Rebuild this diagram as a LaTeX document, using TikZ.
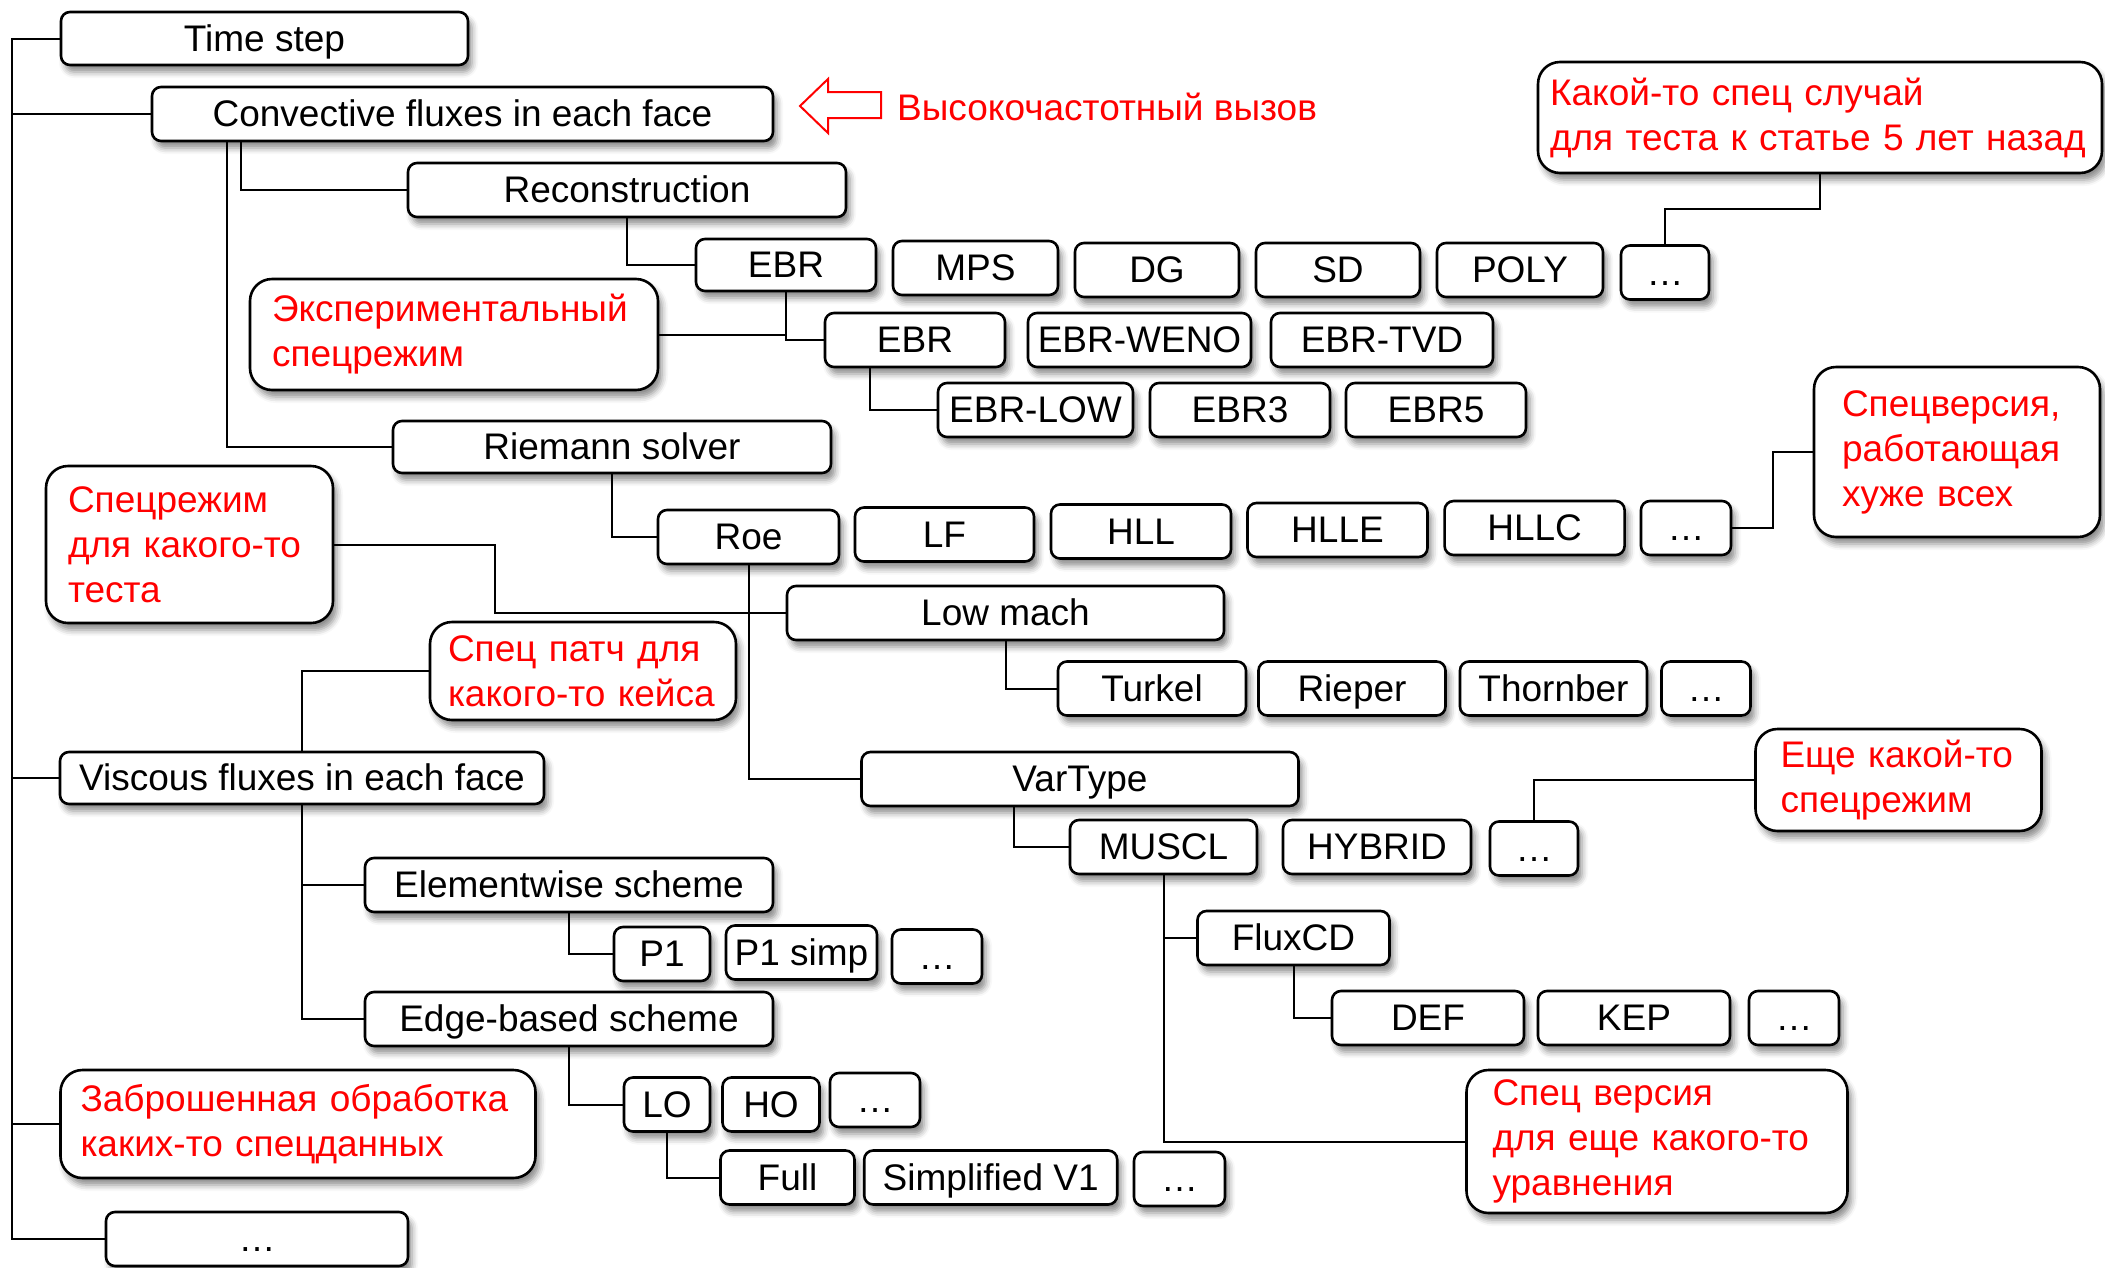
\documentclass[tikz,border=0pt]{standalone}
\usepackage{fontspec}
\setmainfont{Liberation Sans}
\usetikzlibrary{shadows.blur}
\tikzset{
  tbox/.style={draw, line width=2.6pt, rounded corners=9pt, fill=white,
    minimum height=54pt, inner xsep=3pt, inner ysep=0pt,
    text height=25pt, text depth=0pt, font=\fontsize{37}{45}\selectfont,
    blur shadow={shadow xshift=4pt, shadow yshift=-7pt, shadow blur radius=6pt, shadow opacity=45}},
  rbox/.style={tbox, rounded corners=22pt, text=red, align=left, text height=, text depth=},
  link/.style={line width=2pt}
}
\begin{document}
\begin{tikzpicture}[x=1pt, y=-1pt]
        \useasboundingbox (0,0) rectangle (2105,1267);

        \node[tbox, minimum width=407pt, minimum height=53pt] (1) at (264.5,38.5) {Time step};
        \node[tbox, minimum width=621pt] (2) at (462.5,114) {Convective fluxes in each face};
        \node[tbox, minimum width=438pt] (3) at (627,190) {Reconstruction};
        \node[tbox, minimum width=180pt, minimum height=52pt] (4) at (786,265) {EBR};
        \node[tbox, minimum width=165pt] (5) at (975.5,268) {MPS};
        \node[tbox, minimum width=164pt] (6) at (1157,270) {DG};
        \node[tbox, minimum width=164pt] (7) at (1338,270) {SD};
        \node[tbox, minimum width=166pt] (8) at (1520,270) {POLY};
        \node[tbox, minimum width=88pt] (9) at (1665,272.5) {…};
        \node[rbox, text width=364pt, inner xsep=22pt, minimum height=111pt] (10) at (454,334.5) {Экспериментальный\\спецрежим};
        \node[tbox, minimum width=180pt] (11) at (915,340) {EBR};
        \node[tbox, minimum width=223pt] (12) at (1139.5,340) {EBR-WENO};
        \node[tbox, minimum width=222pt] (13) at (1382,340) {EBR-TVD};
        \node[tbox, minimum width=195pt] (14) at (1035.5,410) {EBR-LOW};
        \node[tbox, minimum width=180pt] (15) at (1240,410) {EBR3};
        \node[tbox, minimum width=180pt] (16) at (1436,410) {EBR5};
        \node[tbox, minimum width=438pt, minimum height=52pt] (17) at (612,447) {Riemann solver};
        \node[rbox, text width=243pt, inner xsep=22pt, minimum height=157pt] (18) at (189.5,544.5) {Спецрежим\\для какого-то\\теста};
        \node[tbox, minimum width=181pt] (19) at (748.5,537) {Roe};
        \node[tbox, minimum width=179pt] (20) at (944.5,534.5) {LF};
        \node[tbox, minimum width=180pt] (21) at (1141,531.5) {HLL};
        \node[tbox, minimum width=180pt] (22) at (1337.5,530) {HLLE};
        \node[tbox, minimum width=180pt] (23) at (1534.6,528) {HLLC};
        \node[tbox, minimum width=90pt] (24) at (1686,528) {…};
        \node[rbox, text width=230pt, inner xsep=28pt, minimum height=170pt] (25) at (1957,452) {Спецверсия,\\работающая\\хуже всех};
        \node[tbox, minimum width=437pt] (26) at (1005.5,613) {Low mach};
        \node[tbox, minimum width=188pt] (27) at (1152,688.5) {Turkel};
        \node[tbox, minimum width=187pt] (28) at (1352,688.5) {Rieper};
        \node[tbox, minimum width=187pt] (29) at (1553.5,688.5) {Thornber};
        \node[tbox, minimum width=89pt] (30) at (1706,688.5) {…};
        \node[rbox, text width=270pt, inner xsep=18pt, minimum height=98pt] (31) at (583,671) {Спец патч для\\какого-то кейса};
        \node[tbox, minimum width=484pt, minimum height=52pt] (32) at (302,778) {Viscous fluxes in each face};
        \node[tbox, minimum width=437pt] (33) at (1080,779) {VarType};
        \node[rbox, text width=236pt, inner xsep=25pt, minimum height=102pt] (34) at (1898.5,780) {Еще какой-то\\спецрежим};
        \node[tbox, minimum width=187pt] (35) at (1163.5,847) {MUSCL};
        \node[tbox, minimum width=188pt] (36) at (1377,847) {HYBRID};
        \node[tbox, minimum width=88pt] (37) at (1534,848.5) {…};
        \node[tbox, minimum width=408pt] (38) at (569,885) {Elementwise scheme};
        \node[tbox, minimum width=192pt] (39) at (1293.5,938) {FluxCD};
        \node[tbox, minimum width=96pt] (40) at (662,954) {P1};
        \node[tbox, minimum width=151pt] (41) at (801.5,952.5) {P1 simp};
        \node[tbox, minimum width=90pt] (42) at (937,956.5) {…};
        \node[tbox, minimum width=408pt] (43) at (569,1019) {Edge-based scheme};
        \node[tbox, minimum width=192pt] (44) at (1428,1018) {DEF};
        \node[tbox, minimum width=192pt] (45) at (1634,1018) {KEP};
        \node[tbox, minimum width=90pt] (46) at (1794,1018) {…};
        \node[rbox, text width=435pt, inner xsep=20pt, minimum height=108pt] (47) at (298,1124) {Заброшенная обработка\\каких-то спецданных};
        \node[rbox, text width=329pt, inner xsep=26pt, minimum height=143pt] (48) at (1657,1141.5) {Спец версия\\для еще какого-то\\уравнения};
        \node[tbox, minimum width=86pt] (49) at (667,1104.5) {LO};
        \node[tbox, minimum width=97pt] (50) at (771,1104.5) {HO};
        \node[tbox, minimum width=90pt] (51) at (875,1100) {…};
        \node[tbox, minimum width=134pt] (52) at (787.5,1177.5) {Full};
        \node[tbox, minimum width=253pt] (53) at (990.7,1177.5) {Simplified V1};
        \node[tbox, minimum width=91pt] (54) at (1179.5,1179) {…};
        \node[tbox, minimum width=302pt] (55) at (257,1239) {…};
        \node[rbox, text width=540pt, inner xsep=12pt, minimum height=111pt] (56) at (1820,117.5) {Какой-то спец случай\\\mbox{для теста к статье 5 лет назад}};

        \draw[red, line width=2pt, fill=white] (800,106) -- (828,79) -- (828,92) -- (881,92)
          -- (881,118) -- (828,118) -- (828,133) -- cycle;
        \node[anchor=west, inner sep=0pt, text=red, font=\fontsize{37}{45}\selectfont] (57) at (897,107) {Высокочастотный вызов};

        \coordinate (s1) at (12,0);
        \coordinate (s2) at (241,0);
        \coordinate (s3) at (227,0);
        \coordinate (s4) at (495,0);
        \coordinate (s5) at (1773,0);
        \coordinate (s6) at (0,209);

        \draw[link] (1.west) -- (1.west -| s1) |- (55.west);
        \draw[link] (2.west) -- (2.west -| s1);
        \draw[link] (32.west) -- (32.west -| s1);
        \draw[link] (47.west) -- (47.west -| s1);
        \draw[link] (2.south -| s2) |- (3.west);
        \draw[link] (2.south -| s3) |- (17.west);
        \draw[link] (3.south) |- (4.west);
        \draw[link] (4.south) |- (11.west);
        \draw[link] (10.east) -- (10.east -| 4.south);
        \draw[link] ([xshift=-45pt]11.south) |- (14.west);
        \draw[link] (9.north) |- (s6 -| 56.south) -- (56.south);
        \draw[link] (17.south) |- (19.west);
        \draw[link] (19.south) |- (33.west);
        \draw[link] (26.west) -- (26.west -| 19.south);
        \draw[link] (18.east) -| (s4 |- 26.west) -- (26.west -| 19.south);
        \draw[link] (24.east) -| (s5 |- 25.west) -- (25.west);
        \draw[link] (26.south) |- (27.west);
        \draw[link] (32.north) |- (31.west);
        \draw[link] (32.south) |- (38.west);
        \draw[link] (32.south) |- (43.west);
        \draw[link] (38.south) |- (40.west);
        \draw[link] (43.south) |- (49.west);
        \draw[link] (49.south) |- (52.west);
        \draw[link] ([xshift=-66pt]33.south) |- (35.west);
        \draw[link] (37.north) |- (34.west);
        \draw[link] (35.south) |- (48.west);
        \draw[link] (39.west) -- (39.west -| 35.south);
        \draw[link] (39.south) |- (44.west);
      \end{tikzpicture}
\end{document}
